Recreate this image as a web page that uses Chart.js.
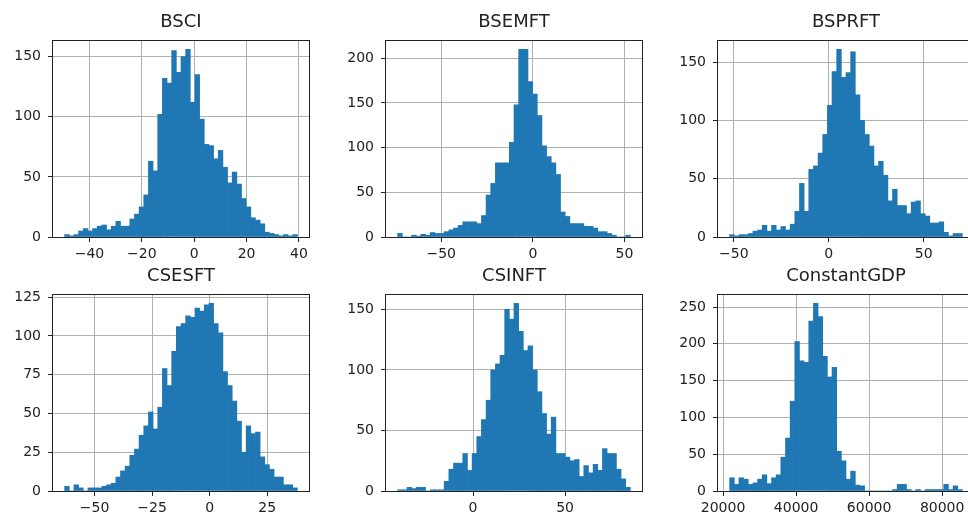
<!DOCTYPE html>
<html>
<head>
<meta charset="utf-8">
<script src="https://cdn.jsdelivr.net/npm/chart.js@4.4.1/dist/chart.umd.min.js"></script>
<style>
  html, body { margin: 0; padding: 0; background: #fff; overflow: hidden; }
  body { width: 968px; height: 517px; position: relative; }
  canvas { position: absolute; }
</style>
</head>
<body>
<script>
// one histogram (50 bins) per column of the frame
const titles = ['BSCI', 'BSEMFT', 'BSPRFT', 'CSESFT', 'CSINFT', 'ConstantGDP'];

const bsciCounts = [2,1,2,5,7,5,7,9,10,6, 9,13,9,9,15,19,25,35,63,55,
  102,132,128,155,137,150,156,112,135,98, 77,76,65,72,58,45,54,44,32,25,
  16,14,11,4,3,2,1,2,1,2];
const bsemftCounts = [4,0,0,2,1,3,2,5,4,4, 6,8,10,13,17,17,17,15,24,47,
  60,83,83,83,106,148,210,210,174,160, 136,102,90,83,70,28,23,15,15,15,
  12,12,10,6,6,4,2,0,0,2];
const bsprftCounts = [2,1,2,2,3,5,6,10,5,10, 6,9,6,11,22,46,22,58,61,72,
  88,113,142,161,137,141,159,122,100,88, 78,61,65,53,31,41,27,27,20,30,
  31,20,18,12,12,13,4,1,3,3];
const csesftCounts = [3,0,4,2,0,2,2,2,3,4, 5,9,13,16,23,27,36,42,51,40,
  54,79,68,90,106,108,113,112,118,116, 120,121,108,102,77,68,58,45,25,42,
  37,38,22,17,14,9,9,4,4,2];
const csinftCounts = [1,1,3,2,3,3,0,1,1,1, 8,18,23,23,31,17,31,45,59,75,
  100,105,112,150,142,155,132,116,120,100, 82,64,47,61,31,31,28,25,26,12,
  21,15,22,17,35,31,31,18,10,3];
const gdpCounts = [18,9,18,16,9,11,16,22,10,18, 22,46,72,122,203,177,175,231,255,237,
  183,155,168,54,41,16,27,8,7,0, 0,0,0,0,0,2,9,9,2,0,
  2,0,2,2,2,2,9,2,7,2];

// data min / max of each column (histogram range)
const binRanges = [[-49.5, 39.4], [-73.8, 53.2], [-52.2, 70.4],
                   [-63.0, 38.1], [-41.0, 85.5], [21805, 85530]];

const xTicks = [[-40, -20, 0, 20, 40], [-50, 0, 50], [-50, 0, 50],
                [-50, -25, 0, 25], [0, 50], [20000, 40000, 60000, 80000]];
const yTicks = [[0, 50, 100, 150], [0, 50, 100, 150, 200], [0, 50, 100, 150],
                [0, 25, 50, 75, 100, 125], [0, 50, 100, 150], [0, 50, 100, 150, 200, 250]];

const allCounts = [bsciCounts, bsemftCounts, bsprftCounts, csesftCounts, csinftCounts, gdpCounts];

// grid of axes, in page pixels
const colLeft = [53, 386, 718];
const rowTop = [40, 294];
const plotW = 256, plotH = 197;
const yAxisW = 53, titleH = 40, xAxisH = 22, rightPad = 30;

const FONT = "'DejaVu Sans', 'Liberation Sans', sans-serif";
const TEXT = '#222';

// matplotlib draws the full box round the axes
const frame = {
  id: 'frame',
  afterDraw(chart) {
    const a = chart.chartArea, ctx = chart.ctx;
    ctx.save();
    ctx.strokeStyle = '#222';
    ctx.lineWidth = 1;
    ctx.strokeRect(Math.round(a.left) - 0.5, Math.round(a.top) + 0.5,
                   Math.round(a.right - a.left) + 1, Math.round(a.bottom - a.top));
    ctx.restore();
  }
};

const fmt = v => String(v).replace('-', '\u2212');

titles.forEach((title, i) => {
  const counts = allCounts[i];
  const [lo, hi] = binRanges[i];
  const span = hi - lo;
  const bw = span / counts.length;
  const pts = counts.map((c, k) => ({ x: lo + (k + 0.5) * bw, y: c }));

  const cv = document.createElement('canvas');
  const col = i % 3, row = Math.floor(i / 3);
  cv.width = yAxisW + plotW + rightPad;
  cv.height = titleH + plotH + xAxisH;
  cv.style.left = (colLeft[col] - yAxisW) + 'px';
  cv.style.top = (rowTop[row] - titleH) + 'px';
  document.body.appendChild(cv);

  new Chart(cv, {
    type: 'bar',
    data: {
      datasets: [{
        data: pts,
        backgroundColor: '#1f77b4',
        borderWidth: 0,
        barPercentage: 1,
        categoryPercentage: 1
      }]
    },
    options: {
      responsive: false,
      animation: false,
      devicePixelRatio: 1,
      layout: { padding: { left: 0, top: 0, bottom: 0, right: rightPad } },
      plugins: {
        legend: { display: false },
        tooltip: { enabled: false },
        title: {
          display: true,
          text: title,
          fullSize: false,
          color: TEXT,
          font: { family: FONT, size: 18, weight: 'normal', lineHeight: '35px' },
          padding: { top: 5, bottom: 0 }
        }
      },
      scales: {
        x: {
          type: 'linear',
          offset: false,
          z: 1,
          min: lo - 0.05 * span,
          max: hi + 0.05 * span,
          afterBuildTicks: s => { s.ticks = xTicks[i].map(v => ({ value: v })); },
          afterFit: s => { s.height = xAxisH; s.paddingLeft = 0; s.paddingRight = 0; },
          border: { display: false },
          grid: { color: '#b0b0b0', lineWidth: 1, offset: false, drawTicks: true, tickLength: 5, tickColor: '#222' },
          ticks: { color: TEXT, font: { family: FONT, size: 14 }, padding: 4, maxRotation: 0, autoSkip: false, callback: fmt }
        },
        y: {
          z: 1,
          min: 0,
          max: Math.max(...counts) * 1.05,
          afterBuildTicks: s => { s.ticks = yTicks[i].map(v => ({ value: v })); },
          afterFit: s => { s.width = yAxisW; s.paddingTop = 0; s.paddingBottom = 0; },
          border: { display: false },
          grid: { color: '#b0b0b0', lineWidth: 1, drawTicks: true, tickLength: 5, tickColor: '#222' },
          ticks: { color: TEXT, font: { family: FONT, size: 14 }, padding: 7, autoSkip: false, callback: fmt }
        }
      }
    },
    plugins: [frame]
  });
});
</script>
</body>
</html>
